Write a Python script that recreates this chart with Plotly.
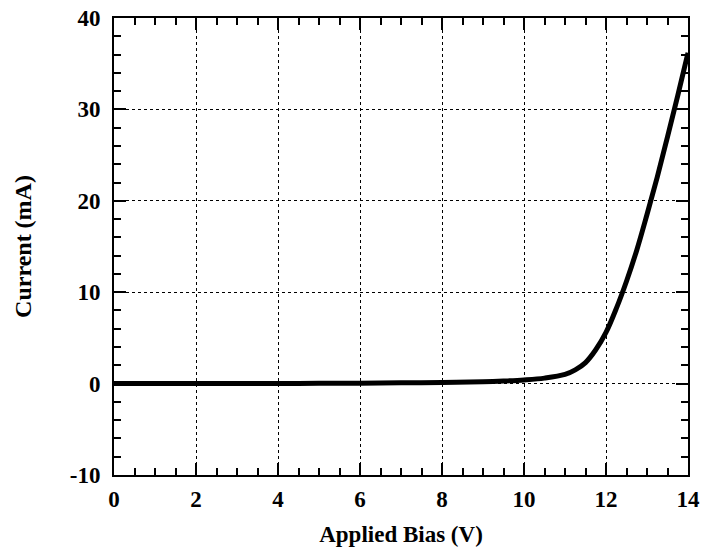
import plotly.graph_objects as go

bias_v = [0, 1, 2, 3, 4, 5, 6, 7, 8, 9, 9.5, 10, 10.5, 11, 11.25, 11.5, 11.75,
          12, 12.25, 12.5, 12.75, 13, 13.25, 13.5, 13.75, 14]
current_ma = [0, 0, 0, 0.01, 0.02, 0.03, 0.05, 0.08, 0.12, 0.2, 0.28, 0.4, 0.6,
              1.0, 1.5, 2.3, 3.7, 5.6, 8.2, 11.2, 14.6, 18.5, 22.6, 27.0, 31.5, 36.2]

x_ticks = [0, 2, 4, 6, 8, 10, 12, 14]
y_ticks = [-10, 0, 10, 20, 30, 40]

FONT = "Liberation Serif, Times New Roman, serif"

fig = go.Figure()
fig.add_trace(go.Scatter(x=bias_v, y=current_ma, mode="lines",
                         line=dict(color="black", width=5, shape="spline", smoothing=1),
                         showlegend=False, hoverinfo="skip"))

axis_common = dict(
    showline=True, linecolor="black", linewidth=2, mirror="allticks",
    ticks="inside", ticklen=12, tickwidth=2, tickcolor="black",
    showgrid=True, gridcolor="black", griddash="dot", gridwidth=1,
    zeroline=False, automargin=False, ticklabeloverflow="allow",
    tickfont=dict(family=FONT, size=23, color="black", weight="bold"),
)

fig.update_xaxes(range=[0, 14], tickvals=x_ticks, ticktext=[str(v) for v in x_ticks],
                 minor=dict(dtick=0.5, tick0=0, ticks="inside", ticklen=7, tickwidth=2,
                            tickcolor="black", showgrid=False),
                 title=dict(text="Applied Bias (V)", standoff=15,
                            font=dict(family=FONT, size=23, color="black", weight="bold")),
                 ticklabelstandoff=2, **axis_common)
fig.update_yaxes(range=[-10, 40], tickvals=y_ticks, ticktext=[str(v) for v in y_ticks],
                 minor=dict(dtick=2, tick0=0, ticks="inside", ticklen=7, tickwidth=2,
                            tickcolor="black", showgrid=False),
                 title=dict(text="Current (mA)", standoff=31,
                            font=dict(family=FONT, size=24, color="black", weight="bold")),
                 ticklabelstandoff=7, **axis_common)

fig.update_layout(width=702, height=552,
                  margin=dict(l=114, r=14, t=18, b=77),
                  paper_bgcolor="white", plot_bgcolor="white")

fig.write_html("out.html", config={"displayModeBar": False},
               post_script="document.body.style.margin='0';document.body.style.padding='0';")
